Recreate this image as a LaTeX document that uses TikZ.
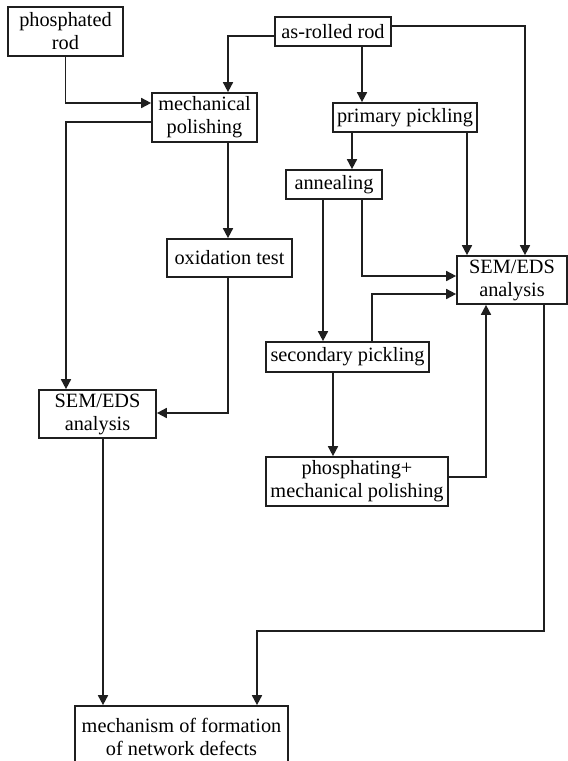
\documentclass[tikz,border=0pt]{standalone}
\usepackage{fontspec}
\setmainfont{Liberation Serif}
\usetikzlibrary{arrows.meta}
\tikzset{
  box/.style={draw=black!88, line width=1.7pt, inner sep=0pt, align=center,
    font=\fontsize{20.3}{23}\selectfont},
  arr/.style={draw=black!88, line width=1.7pt, -{Triangle[length=10pt,width=10pt]}},
}
\begin{document}
\begin{tikzpicture}[x=1pt,y=-1pt]
\useasboundingbox (0,0) rectangle (568,761);
\node[box, minimum width=115pt, minimum height=49pt] (phos) at (65.5,31.5) {phosphated\\rod};
\node[box, minimum width=116pt, minimum height=29pt] (as) at (333,31.5) {as-rolled rod};
\node[box, minimum width=105pt, minimum height=49pt] (mech) at (204.5,117.5) {mechanical\\polishing};
\node[box, minimum width=144pt, minimum height=29pt] (prim) at (405,117.5) {primary pickling};
\node[box, minimum width=96pt, minimum height=29pt] (ann) at (334,184.5) {annealing};
\node[box, minimum width=125pt, minimum height=38pt] (oxid) at (229.5,258) {oxidation test};
\node[box, minimum width=110pt, minimum height=48pt] (semR) at (512,280) {SEM/EDS\\analysis};
\node[box, minimum width=163pt, minimum height=30pt] (sec) at (347.5,357) {secondary pickling};
\node[box, minimum width=117pt, minimum height=48pt] (semL) at (97.5,414) {SEM/EDS\\analysis};
\node[box, minimum width=182pt, minimum height=49pt] (phosp) at (357,481.5) {phosphating+\\mechanical polishing};
\node[box, minimum width=213pt, minimum height=62pt] (fin) at (181.5,737) {mechanism of formation\\of network defects};

\draw[arr] (phos.south) |- ([yshift=14.5pt]mech.west);
\draw[arr] ([yshift=-4.5pt]mech.west) -| ([xshift=-31.5pt]semL.north);
\draw[arr] ([yshift=-4.5pt]as.west) -| ([xshift=23.5pt]mech.north);
\draw[arr] ([xshift=29pt]as.south) -- ([xshift=-43pt]prim.north);
\draw[arr] ([yshift=5.5pt]as.east) -| ([xshift=13pt]semR.north);
\draw[arr] ([xshift=-53pt]prim.south) -- ([xshift=18pt]ann.north);
\draw[arr] ([xshift=62pt]prim.south) -- ([xshift=-45pt]semR.north);
\draw[arr] ([xshift=-11pt]ann.south) -- ([xshift=-24.5pt]sec.north);
\draw[arr] ([xshift=28pt]ann.south) |- ([yshift=4pt]semR.west);
\draw[arr] ([xshift=24.5pt]sec.north) |- ([yshift=-14pt]semR.west);
\draw[arr] ([xshift=23.5pt]mech.south) -- ([xshift=-1.5pt]oxid.north);
\draw[arr] ([xshift=-1.5pt]oxid.south) |- ([yshift=1pt]semL.east);
\draw[arr] ([xshift=-14.5pt]sec.south) -- ([xshift=-24pt]phosp.north);
\draw[arr] ([yshift=4.5pt]phosp.east) -| ([xshift=-26pt]semR.south);
\draw[arr] ([xshift=32pt]semR.south) -- ++(0,326) -| ([xshift=75.5pt]fin.north);
\draw[arr] ([xshift=5.5pt]semL.south) -- ([xshift=-78.5pt]fin.north);
\end{tikzpicture}
\end{document}
